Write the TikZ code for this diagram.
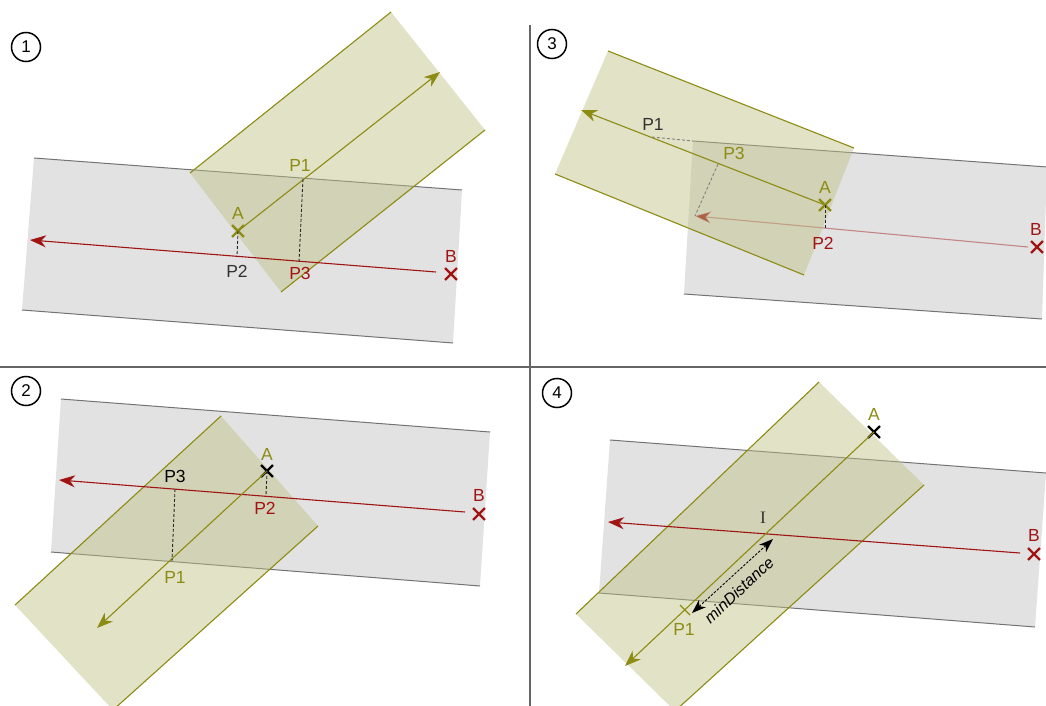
\documentclass[tikz,border=0pt]{standalone}
\usepackage{fontspec}
\setmainfont{Liberation Sans}
\newfontfamily\serifI{Liberation Serif}
\usetikzlibrary{arrows.meta,shapes.misc}
\definecolor{bandgray}{RGB}{226,226,226}
\definecolor{edgegray}{RGB}{115,115,115}
\definecolor{olivefill}{RGB}{191,191,130}
\definecolor{olivestroke}{RGB}{140,140,20}
\definecolor{olivetext}{RGB}{140,140,20}
\definecolor{darkred}{RGB}{160,20,20}
\definecolor{darktext}{RGB}{50,50,50}
\tikzset{
 grayband/.style={fill=bandgray},
 grayedge/.style={draw=edgegray, line width=1pt},
 oliveband/.style={fill=olivefill, fill opacity=0.45},
 oliveedge/.style={draw=olivestroke, line width=1.1pt},
 olivearrow/.style={draw=olivestroke, line width=1.1pt, -{Stealth[length=16pt,width=12pt,inset=5pt]}},
 redarrow/.style={draw=darkred, line width=1.1pt, -{Stealth[length=16pt,width=12pt,inset=5pt]}},
 dashln/.style={draw=black!85, line width=0.9pt, dash pattern=on 3pt off 2pt},
 graydash/.style={draw=black!50, line width=0.9pt, dash pattern=on 3pt off 2pt},
 lbl/.style={font=\fontsize{17.5}{20}\selectfont, inner sep=0pt},
 xmark/.style={cross out, draw, line width=2.4pt, minimum size=9.5pt, inner sep=0pt},
 numc/.style={circle, draw, line width=1.5pt, minimum size=29pt, inner sep=0pt, font=\fontsize{17}{19}\selectfont},
 divider/.style={draw=black!60, line width=1.3pt},
 mindist/.style={draw=black, line width=0.9pt, dash pattern=on 2.5pt off 1.5pt, {Stealth[length=14pt,width=10pt,inset=4pt]}-{Stealth[length=14pt,width=10pt,inset=4pt]}}
}
\begin{document}
\begin{tikzpicture}[x=1pt,y=-1pt]
\useasboundingbox (0,0) rectangle (1046,706);
\clip (0,0) rectangle (1046,706);
\fill[white] (0,0) rectangle (1046,706);

% dividers
\coordinate (dvT) at (530,25); \coordinate (dvB) at (530,706);
\coordinate (dhL) at (0,367); \coordinate (dhR) at (1046,367);
\draw[divider] (dvT) -- (dvB);
\draw[divider] (dhL) -- (dhR);

% ================= Quadrant 1 =================
\node[numc] (n1) at (26,47) {1};
\fill[grayband] (34,158) -- (462,190) -- (453,343) -- (22,310) -- cycle;
\draw[grayedge] (34,158) -- (462,190);
\draw[grayedge] (22,310) -- (453,343);
\fill[oliveband] (190,173) -- (391,12) -- (485,130) -- (281,292) -- cycle;
\draw[oliveedge] (190,173) -- (391,12);
\draw[oliveedge] (281,292) -- (485,130);
\coordinate (q1Bs) at (436,272); \coordinate (q1Be) at (30,240);
\draw[redarrow] (q1Bs) -- (q1Be);
\node[xmark, draw=darkred] (q1xB) at (451,274) {};
\node[lbl, text=darkred] (q1lB) at (451,256) {B};
\coordinate (q1Ae) at (440,72);
\node[xmark, draw=olivestroke] (q1xA) at (238,231) {};
\draw[olivearrow] (q1xA.center) -- (q1Ae);
\node[lbl, text=olivetext] (q1lA) at (238,213) {A};
\coordinate (q1P1) at (303,179);
\coordinate (q1P3) at (299,262);
\coordinate (q1P2) at (237,257);
\draw[dashln] (q1P1) -- (q1P3);
\draw[dashln] (q1xA.center) -- (q1P2);
\node[lbl, text=olivetext] (q1lP1) at (300,165) {P1};
\node[lbl, text=darktext] (q1lP2) at (237,271) {P2};
\node[lbl, text=darkred] (q1lP3) at (300,273) {P3};

% ================= Quadrant 3 =================
\node[numc] (n3) at (552,44) {3};
\fill[grayband] (693,141) -- (1047,167) -- (1042,319) -- (684,294) -- cycle;
\draw[grayedge] (693,141) -- (1047,167);
\draw[grayedge] (684,294) -- (1042,319);
\coordinate (q3Bs) at (1028,247); \coordinate (q3Be) at (695,216);
\draw[redarrow, draw opacity=0.45] (q3Bs) -- (q3Be);
\fill[oliveband] (608,51) -- (854,148) -- (804,275) -- (555,174) -- cycle;
\draw[oliveedge] (608,51) -- (854,148);
\draw[oliveedge] (555,174) -- (804,275);
\node[xmark, draw=darkred] (q3xB) at (1037,247) {};
\node[lbl, text=darkred] (q3lB) at (1036,229) {B};
\coordinate (q3Ae) at (581,110);
\node[xmark, draw=olivestroke] (q3xA) at (825,205) {};
\draw[olivearrow] (q3xA.center) -- (q3Ae);
\node[lbl, text=olivetext] (q3lA) at (825,187) {A};
\coordinate (q3P1) at (652,137);
\coordinate (q3G) at (693,141);
\coordinate (q3P3) at (718,164);
\coordinate (q3P2) at (825,228);
\draw[graydash] (q3P1) -- (q3G);
\draw[graydash] (q3P3) -- (q3Be);
\draw[dashln] (q3xA.center) -- (q3P2);
\node[lbl, text=darktext] (q3lP1) at (653,124) {P1};
\node[lbl, text=olivetext] (q3lP3) at (734,153) {P3};
\node[lbl, text=darkred] (q3lP2) at (823,243) {P2};

% ================= Quadrant 2 =================
\node[numc] (n2) at (26,391) {2};
\fill[grayband] (61,399) -- (490,432) -- (480,586) -- (51,552) -- cycle;
\draw[grayedge] (61,399) -- (490,432);
\draw[grayedge] (51,552) -- (480,586);
\fill[oliveband] (221,416) -- (318,526) -- (113,710) -- (15,605) -- cycle;
\draw[oliveedge] (221,416) -- (15,605);
\draw[oliveedge] (318,526) -- (113,710);
\coordinate (q2Bs) at (465,512); \coordinate (q2Be) at (59,480);
\draw[redarrow] (q2Bs) -- (q2Be);
\node[xmark, draw=darkred] (q2xB) at (479,514) {};
\node[lbl, text=darkred] (q2lB) at (479,495) {B};
\coordinate (q2Ae) at (97,628);
\node[xmark, draw=black] (q2xA) at (267,471) {};
\draw[olivearrow] (q2xA.center) -- (q2Ae);
\node[lbl, text=olivetext] (q2lA) at (267,454) {A};
\coordinate (q2P2) at (266,496);
\coordinate (q2P3) at (175,489);
\coordinate (q2P1) at (172,561);
\draw[dashln] (q2xA.center) -- (q2P2);
\draw[dashln] (q2P3) -- (q2P1);
\node[lbl, text=darkred] (q2lP2) at (265,508) {P2};
\node[lbl, text=black] (q2lP3) at (175,476) {P3};
\node[lbl, text=olivetext] (q2lP1) at (175,577) {P1};

% ================= Quadrant 4 =================
\node[numc] (n4) at (557,393) {4};
\fill[grayband] (610,440) -- (1046,473) -- (1035,627) -- (599,593) -- cycle;
\draw[grayedge] (610,440) -- (1046,473);
\draw[grayedge] (599,593) -- (1035,627);
\fill[oliveband] (819,382) -- (924,485) -- (675,711) -- (576,614) -- cycle;
\draw[oliveedge] (819,382) -- (576,614);
\draw[oliveedge] (924,485) -- (675,711);
\coordinate (q4Bs) at (1020,553); \coordinate (q4Be) at (608,522);
\draw[redarrow] (q4Bs) -- (q4Be);
\node[xmark, draw=darkred] (q4xB) at (1034,554) {};
\node[lbl, text=darkred] (q4lB) at (1034,535) {B};
\coordinate (q4Ae) at (625,666);
\node[xmark, draw=black] (q4xA) at (874,432) {};
\draw[olivearrow] (q4xA.center) -- (q4Ae);
\node[lbl, text=olivetext] (q4lA) at (874,414) {A};
\node[lbl, text=darktext, font=\serifI\fontsize{17.5}{20}\selectfont] (q4lI) at (763,518) {I};
\coordinate (q4t1) at (680,605); \coordinate (q4t2) at (690,615);
\draw[oliveedge] (q4t1) -- (q4t2);
\node[lbl, text=olivetext] (q4lP1) at (684,629) {P1};
\coordinate (q4m1) at (692,613); \coordinate (q4m2) at (773,539);
\draw[mindist] (q4m1) -- (q4m2);
\node[lbl, rotate=43, font=\itshape\fontsize{16}{18}\selectfont] (q4lmd) at (739,590) {minDistance};
\end{tikzpicture}
\end{document}
